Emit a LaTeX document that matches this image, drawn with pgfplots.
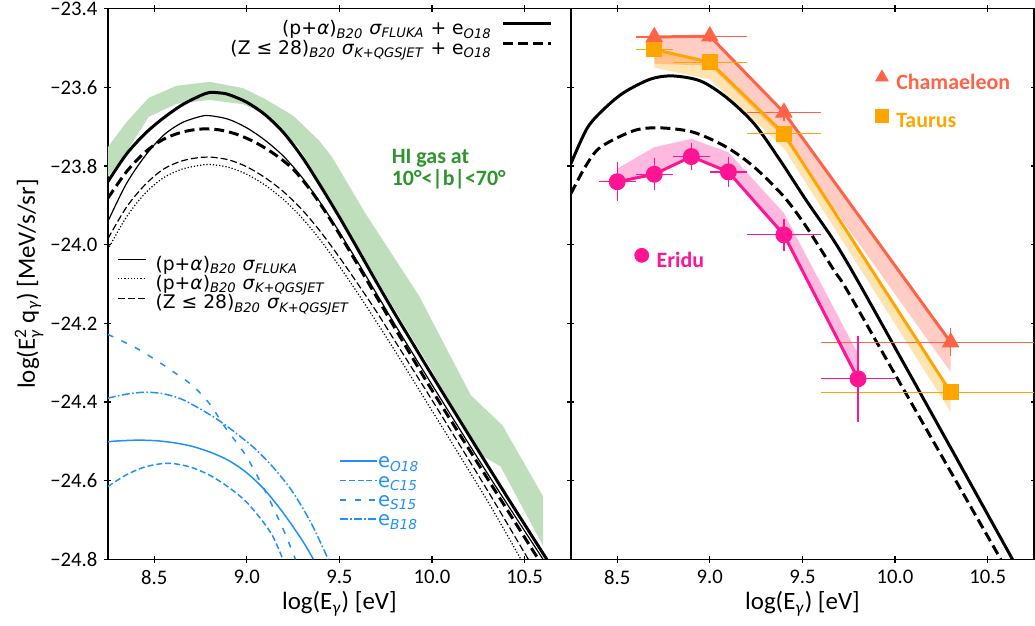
\documentclass[border=0pt]{standalone}
\usepackage{fontspec}
\setmainfont{Carlito}
\newfontfamily\dejavu{DejaVu Sans}
\usepackage{amsmath}
\usepackage{pgfplots}
\pgfplotsset{compat=1.18}

\definecolor{hiband}{RGB}{190,222,188}
\definecolor{higreen}{RGB}{44,150,44}
\definecolor{eblue}{RGB}{30,144,255}
\definecolor{cham}{RGB}{255,99,71}
\definecolor{taur}{RGB}{255,165,0}
\definecolor{erid}{RGB}{255,20,147}

\newcommand{\pa}{(p+\textit{α})\textsubscript{\textit{B20}}}
\newcommand{\zz}{(Z ≤ 28)\textsubscript{\textit{B20}}}
\newcommand{\sfl}{\textit{σ}\textsubscript{\textit{FLUKA}}}
\newcommand{\sqg}{\textit{σ}\textsubscript{\textit{K+QGSJET}}}
\newcommand{\eo}{e\textsubscript{\textit{O18}}}

\pgfplotsset{
  panel/.style={
    scale only axis, width=232.5pt, height=276.5pt,
    xmin=8.25, xmax=10.75, ymin=-24.8, ymax=-23.4,
    xtick={8.5,9.0,9.5,10.0,10.5}, xticklabels={8.5,9.0,9.5,10.0,10.5},
    ytick={-24.8,-24.6,-24.4,-24.2,-24.0,-23.8,-23.6,-23.4},
    tick align=center, major tick length=3.5pt,
    tick style={black, line width=0.6pt},
    axis line style={line width=0.8pt},
    ticklabel style={font=\fontsize{10.4}{12}\selectfont},
    label style={font=\fontsize{12.5}{14}\selectfont},
    xlabel={log(E\textsubscript{\textit{γ}}) [eV]},
    xlabel style={at={(axis description cs:0.5,-0.081)}, anchor=center},
  },
  errs/.style={error bars/.cd, x dir=both, x explicit, y dir=both, y explicit,
    error mark=none, error bar style={line width=0.65pt, #1}},
}

\begin{document}
\begin{tikzpicture}
% ---------------- left panel ----------------
\begin{axis}[panel, at={(0pt,0pt)}, anchor=south west,
  yticklabels={−24.8,−24.6,−24.4,−24.2,−24.0,−23.8,−23.6,−23.4},
  ylabel={log(E$^{\text{2}}_{\text{\textit{γ}}}$ q\textsubscript{\textit{γ}}) [MeV/s/sr]},
  ylabel style={at={(axis description cs:-0.17,0.5)}, anchor=center},
  legend style={at={(axis description cs:0.961,0.981)}, anchor=north east,
    draw=none, fill=none, inner sep=0pt, row sep=0pt,
    font=\dejavu\fontsize{9.4}{12}\selectfont,
    nodes={inner sep=0pt, text height=7.5pt, text depth=2.5pt},
    /tikz/every odd column/.append style={column sep=5pt}},
  legend cell align=right, legend plot pos=right,
  legend image code/.code={\draw[#1] (0pt,3pt) -- (24pt,3pt);},
]
% HI gas band
\addplot[draw=none, fill=hiband, forget plot] coordinates {
(8.25,-23.752) (8.35,-23.689) (8.47,-23.627) (8.62,-23.596) (8.80,-23.586)
(8.98,-23.602) (9.10,-23.630) (9.25,-23.672) (9.39,-23.735) (9.46,-23.777)
(9.64,-23.920) (9.93,-24.130) (10.21,-24.383) (10.38,-24.459) (10.60,-24.640)
(10.60,-24.766) (10.37,-24.564) (10.25,-24.530) (10.00,-24.320) (9.78,-24.150)
(9.50,-23.925) (9.28,-23.752) (9.10,-23.668) (8.98,-23.643) (8.80,-23.632)
(8.62,-23.642) (8.47,-23.675) (8.35,-23.765) (8.25,-23.828)} -- cycle;

% electron components
\addplot[eblue, line width=0.75pt, smooth, forget plot] coordinates {
(8.25,-24.501) (8.30,-24.499) (8.40,-24.497) (8.50,-24.498) (8.60,-24.503)
(8.70,-24.512) (8.80,-24.527) (8.90,-24.548) (9.00,-24.580) (9.10,-24.625)
(9.20,-24.684) (9.30,-24.752) (9.36,-24.800)};
\addplot[eblue, line width=0.75pt, dash pattern=on 3pt off 1.5pt, smooth, forget plot] coordinates {
(8.25,-24.615) (8.35,-24.585) (8.45,-24.565) (8.55,-24.556) (8.60,-24.556)
(8.70,-24.566) (8.80,-24.586) (8.90,-24.616) (9.00,-24.655) (9.10,-24.712)
(9.15,-24.750) (9.195,-24.800)};
\addplot[eblue, line width=0.75pt, dash pattern=on 3pt off 4.5pt, smooth, forget plot] coordinates {
(8.25,-24.228) (8.40,-24.262) (8.528,-24.299) (8.60,-24.322) (8.707,-24.358)
(8.80,-24.405) (8.887,-24.467) (8.994,-24.535) (9.10,-24.627) (9.20,-24.727)
(9.263,-24.800)};
\addplot[eblue, line width=0.75pt, dash pattern=on 4pt off 1.2pt on 0.8pt off 1.2pt, smooth, forget plot] coordinates {
(8.25,-24.390) (8.35,-24.380) (8.45,-24.375) (8.55,-24.379) (8.65,-24.393)
(8.75,-24.418) (8.85,-24.447) (8.95,-24.482) (9.05,-24.521) (9.15,-24.570)
(9.25,-24.630) (9.35,-24.710) (9.44,-24.800)};

% thin black: hadronic only
\addplot[black, line width=0.6pt, smooth, forget plot] coordinates {
(8.25,-23.941) (8.35,-23.845) (8.45,-23.775) (8.55,-23.722) (8.65,-23.690)
(8.75,-23.674) (8.80,-23.672) (8.90,-23.681) (9.00,-23.703) (9.10,-23.735)
(9.20,-23.776) (9.30,-23.830) (9.40,-23.895) (9.50,-23.968) (9.60,-24.045)
(9.70,-24.124) (9.80,-24.203) (10.00,-24.356) (10.30,-24.582) (10.60,-24.800)};
\addplot[black, line width=0.6pt, dash pattern=on 0.6pt off 1pt, smooth, forget plot] coordinates {
(8.25,-24.012) (8.35,-23.930) (8.45,-23.870) (8.55,-23.830) (8.65,-23.808)
(8.75,-23.798) (8.80,-23.796) (8.90,-23.803) (9.00,-23.821) (9.10,-23.849)
(9.20,-23.886) (9.30,-23.933) (9.40,-23.990) (9.50,-24.055) (9.60,-24.124)
(9.70,-24.196) (9.80,-24.270) (10.00,-24.422) (10.30,-24.652) (10.48,-24.800)};
\addplot[black, line width=0.6pt, dash pattern=on 3.5pt off 1.5pt, smooth, forget plot] coordinates {
(8.25,-23.985) (8.35,-23.905) (8.45,-23.848) (8.55,-23.808) (8.65,-23.787)
(8.75,-23.778) (8.80,-23.777) (8.90,-23.784) (9.00,-23.802) (9.10,-23.830)
(9.20,-23.866) (9.30,-23.912) (9.40,-23.968) (9.50,-24.032) (9.60,-24.100)
(9.70,-24.170) (9.80,-24.245) (10.00,-24.395) (10.30,-24.625) (10.52,-24.800)};

% thick black: total
\addplot[black, line width=1.5pt, smooth] coordinates {
(8.25,-23.840) (8.35,-23.770) (8.45,-23.718) (8.55,-23.678) (8.65,-23.645)
(8.75,-23.621) (8.80,-23.613) (8.85,-23.614) (8.90,-23.618) (9.00,-23.638)
(9.10,-23.670) (9.20,-23.716) (9.30,-23.778) (9.40,-23.852) (9.50,-23.930)
(9.60,-24.012) (9.70,-24.095) (9.80,-24.176) (9.90,-24.254) (10.00,-24.332)
(10.20,-24.485) (10.40,-24.637) (10.62,-24.800)};
\addlegendentry{\pa\ \sfl\ + \eo}
\addplot[black, line width=1.5pt, dash pattern=on 5pt off 2.5pt, smooth] coordinates {
(8.25,-23.882) (8.35,-23.815) (8.45,-23.765) (8.55,-23.732) (8.65,-23.714)
(8.75,-23.706) (8.85,-23.708) (8.95,-23.720) (9.05,-23.741) (9.15,-23.770)
(9.25,-23.808) (9.35,-23.865) (9.45,-23.935) (9.55,-24.012) (9.65,-24.092)
(9.75,-24.172) (9.85,-24.252) (10.00,-24.370) (10.30,-24.595) (10.575,-24.800)};
\addlegendentry{\zz\ \sqg\ + \eo}

\node[anchor=west, align=left, text=higreen, font=\bfseries\fontsize{11}{9.5}\selectfont]
  at (axis cs:9.745,-23.808) {HI gas at\\10°<|b|<70°};
\end{axis}

% black legend (hadronic only)
\begin{axis}[panel, hide axis, at={(0pt,0pt)}, anchor=south west,
  legend style={at={(axis description cs:0.02,0.552)}, anchor=north west,
    draw=none, fill=none, inner sep=0pt, row sep=0pt,
    font=\dejavu\fontsize{9.4}{12}\selectfont,
    nodes={inner sep=0pt, text height=7.2pt, text depth=2.5pt},
    /tikz/every odd column/.append style={column sep=4.5pt}},
  legend cell align=left,
  legend image code/.code={\draw[#1] (0pt,3pt) -- (14pt,3pt);},
]
\addlegendimage{black, line width=0.6pt}
\addlegendentry{\pa\ \sfl}
\addlegendimage{black, line width=0.6pt, dash pattern=on 0.6pt off 1pt}
\addlegendentry{\pa\ \sqg}
\addlegendimage{black, line width=0.6pt, dash pattern=on 3.5pt off 1.5pt}
\addlegendentry{\zz\ \sqg}
\end{axis}

% blue legend (electron models)
\begin{axis}[panel, hide axis, at={(0pt,0pt)}, anchor=south west,
  legend style={at={(axis description cs:0.498,0.193)}, anchor=north west,
    draw=none, fill=none, inner sep=0pt, row sep=0pt, text=eblue,
    font=\dejavu\fontsize{9.8}{12}\selectfont,
    nodes={inner sep=0pt, text height=7.2pt, text depth=2.5pt}},
  legend cell align=left,
  legend image code/.code={\draw[#1] (0pt,1pt) -- (19pt,1pt);},
]
\addlegendimage{eblue, line width=0.75pt}
\addlegendentry{e\textsubscript{\textit{O18}}}
\addlegendimage{eblue, line width=0.75pt, dash pattern=on 3pt off 1.5pt}
\addlegendentry{e\textsubscript{\textit{C15}}}
\addlegendimage{eblue, line width=0.75pt, dash pattern=on 3pt off 4.5pt}
\addlegendentry{e\textsubscript{\textit{S15}}}
\addlegendimage{eblue, line width=0.75pt, dash pattern=on 4pt off 1.2pt on 0.8pt off 1.2pt}
\addlegendentry{e\textsubscript{\textit{B18}}}
\end{axis}

% ---------------- right panel ----------------
\begin{axis}[panel, at={(232.5pt,0pt)}, anchor=south west,
  yticklabels={},
  legend style={at={(axis description cs:0.657,0.889)}, anchor=north west,
    draw=none, fill=none, inner sep=0pt, row sep=7.5pt,
    font=\bfseries\fontsize{11}{12}\selectfont,
    nodes={inner sep=0pt, text height=7.5pt, text depth=2.5pt},
    /tikz/every odd column/.append style={column sep=4pt}},
  legend cell align=left,
  legend image code/.code={\draw[#1] plot coordinates {(3.5pt,3.5pt)};},
]
% bands
\addplot[draw=none, fill=cham, fill opacity=0.32, forget plot] coordinates {
(8.7,-23.472) (9.0,-23.470) (9.4,-23.664) (10.3,-24.248)
(10.3,-24.324) (9.4,-23.730) (9.0,-23.545) (8.7,-23.540)} -- cycle;
\addplot[draw=none, fill=taur, fill opacity=0.3, forget plot] coordinates {
(8.7,-23.504) (9.0,-23.536) (9.4,-23.718) (10.3,-24.375)
(10.3,-24.425) (9.4,-23.755) (9.0,-23.580) (8.7,-23.550)} -- cycle;
\addplot[draw=none, fill=erid, fill opacity=0.3, forget plot] coordinates {
(8.5,-23.807) (8.7,-23.752) (8.9,-23.731) (9.1,-23.765) (9.4,-23.920) (9.8,-24.278)
(9.8,-24.341) (9.4,-23.975) (9.1,-23.815) (8.9,-23.776) (8.7,-23.821) (8.5,-23.840)} -- cycle;

% model curves
\addplot[black, line width=1.5pt, smooth, forget plot] coordinates {
(8.25,-23.794) (8.34,-23.702) (8.44,-23.650) (8.54,-23.612) (8.68,-23.579)
(8.80,-23.571) (8.95,-23.584) (9.09,-23.626) (9.24,-23.693) (9.38,-23.786)
(9.52,-23.887) (9.67,-23.990) (9.79,-24.085) (10.00,-24.262) (10.30,-24.516)
(10.634,-24.800)};
\addplot[black, line width=1.5pt, dash pattern=on 5pt off 2.5pt, smooth, forget plot] coordinates {
(8.25,-23.870) (8.33,-23.800) (8.41,-23.752) (8.59,-23.710) (8.73,-23.703)
(8.91,-23.714) (9.09,-23.752) (9.24,-23.803) (9.40,-23.878) (9.52,-23.954)
(9.67,-24.065) (9.74,-24.115) (10.00,-24.330) (10.30,-24.577) (10.571,-24.800)};

% data
\addplot[cham, line width=1.5pt, mark=triangle*, mark size=3.6pt, mark options={solid, fill=cham},
  forget plot, errs=cham]
  table[x=x, y=y, x error plus=xe, x error minus=xe, y error=ye] {
x     y       xe    ye
8.7   -23.472 0.1   0.016
9.0   -23.470 0.2   0.016
9.4   -23.664 0.2   0.021
10.3  -24.248 0.7   0.035
};
\addplot[taur, line width=1.5pt, mark=square*, mark size=3.2pt, mark options={solid, fill=taur},
  forget plot, errs=taur]
  table[x=x, y=y, x error plus=xe, x error minus=xe, y error=ye] {
x     y       xe    ye
8.7   -23.504 0.1   0.01
9.0   -23.536 0.2   0.01
9.4   -23.718 0.2   0.01
10.3  -24.375 0.7   0.01
};
\addplot[erid, line width=1.5pt, mark=*, mark size=3.5pt, mark options={solid, fill=erid},
  forget plot, errs=erid]
  table[x=x, y=y, x error plus=xe, x error minus=xe, y error=ye] {
x     y       xe    ye
8.5   -23.840 0.1   0.050
8.7   -23.821 0.1   0.041
8.9   -23.776 0.1   0.035
9.1   -23.815 0.1   0.038
9.4   -23.975 0.2   0.041
9.8   -24.341 0.2   0.110
};

\addlegendimage{only marks, mark=triangle*, mark size=3.6pt, cham, fill=cham}
\addlegendentry{\textcolor{cham}{Chamaeleon}}
\addlegendimage{only marks, mark=square*, mark size=3.2pt, taur, fill=taur}
\addlegendentry{\textcolor{taur}{Taurus}}
\end{axis}

% Eridu label
\begin{axis}[panel, hide axis, at={(232.5pt,0pt)}, anchor=south west,
  legend style={at={(axis description cs:0.137,0.543)}, anchor=west,
    draw=none, fill=none, inner sep=0pt,
    font=\bfseries\fontsize{11}{12}\selectfont,
    nodes={inner sep=0pt, text height=7.5pt, text depth=2.5pt},
    /tikz/every odd column/.append style={column sep=4pt}},
  legend cell align=left,
  legend image code/.code={\draw[#1] plot coordinates {(3.5pt,3.5pt)};},
]
\addlegendimage{only marks, mark=*, mark size=3.5pt, erid, fill=erid}
\addlegendentry{\textcolor{erid}{Eridu}}
\end{axis}

\pgfresetboundingbox
\path[use as bounding box] (-54.15pt,-33.15pt) rectangle (465.5pt,280.85pt);
\end{tikzpicture}
\end{document}
